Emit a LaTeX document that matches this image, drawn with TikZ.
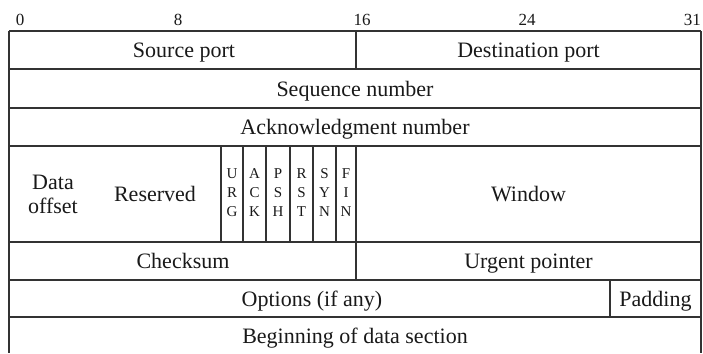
\documentclass[tikz,border=0pt]{standalone}
\usepackage{fontspec}
\setmainfont{Liberation Serif}
\begin{document}
\begin{tikzpicture}[x=1bp,y=-1bp,
  frame/.style={line width=1.1bp,draw=black!80},
  field/.style={anchor=base,inner sep=0pt,font=\fontsize{22bp}{24bp}\selectfont,text=black!90},
  multi/.style={anchor=center,inner sep=0pt,align=center,font=\fontsize{22bp}{24bp}\selectfont,text=black!90},
  flag/.style={anchor=center,inner sep=0pt,align=center,font=\fontsize{15bp}{19bp}\selectfont,text=black!90},
  bitnum/.style={anchor=base,inner sep=0pt,font=\fontsize{17bp}{19bp}\selectfont,text=black!90}]
\useasboundingbox (0,0) rectangle (703,353);
% outer verticals
\draw[frame] (9,31) -- (9,353);
\draw[frame] (701,31) -- (701,353);
% horizontals
\foreach \y in {31,69,108,146,242,280,317}
  \draw[frame] (9,\y) -- (701,\y);
% field dividers
\draw[frame] (356,31) -- (356,69);
\draw[frame] (356,146) -- (356,280);
\foreach \x in {221,243,266,290,313,336}
  \draw[frame] (\x,146) -- (\x,242);
\draw[frame] (610,280) -- (610,317);
% bit numbers
\node[bitnum] (b0) at (20,25) {0};
\node[bitnum] (b8) at (178,25) {8};
\node[bitnum] (b16) at (362,25) {16};
\node[bitnum] (b24) at (527,25) {24};
\node[bitnum,anchor=base east] (b31) at (701,25) {31};
% fields
\node[field] (src) at (184,57.5) {Source port};
\node[field] (dst) at (528.5,57.5) {Destination port};
\node[field] (seq) at (355,96) {Sequence number};
\node[field] (ack) at (355,134.5) {Acknowledgment number};
\node[multi] (doff) at (53,194.5) {Data\\offset};
\node[field] (res) at (155,201.5) {Reserved};
\node[flag] (urg) at (232,193) {U\\R\\G};
\node[flag] (ackf) at (254.5,193) {A\\C\\K};
\node[flag] (psh) at (278,193) {P\\S\\H};
\node[flag] (rst) at (301.5,193) {R\\S\\T};
\node[flag] (syn) at (324.5,193) {S\\Y\\N};
\node[flag] (fin) at (346,193) {F\\I\\N};
\node[field] (win) at (528.5,201.5) {Window};
\node[field] (chk) at (183,268.5) {Checksum};
\node[field] (urgp) at (528.5,268.5) {Urgent pointer};
\node[field] (opt) at (312,306) {Options (if any)};
\node[field] (pad) at (655.5,306) {Padding};
\node[field] (data) at (355,343) {Beginning of data section};
\end{tikzpicture}
\end{document}
